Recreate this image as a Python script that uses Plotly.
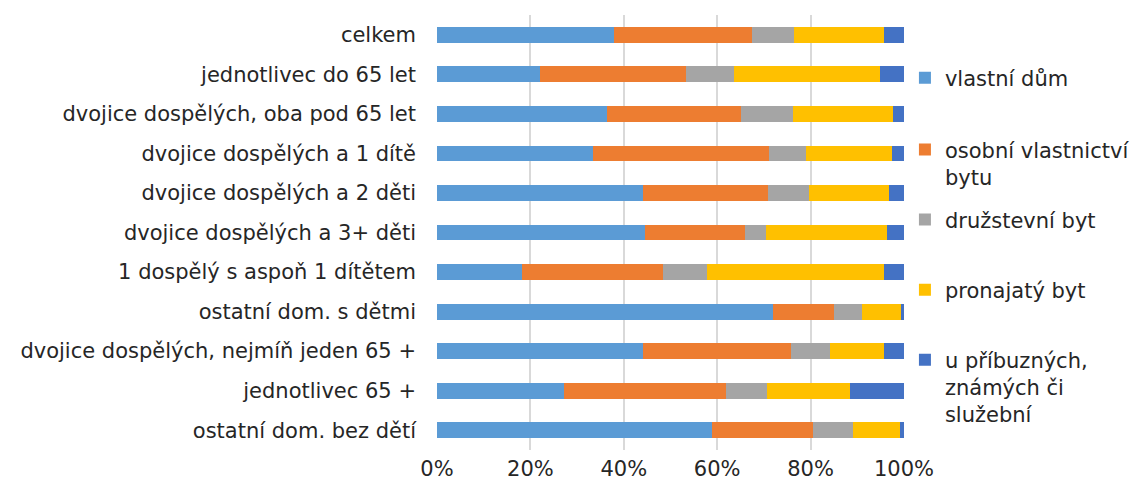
import plotly.graph_objects as go

categories = [
    "celkem",
    "jednotlivec do 65 let",
    "dvojice dospělých, oba pod 65 let",
    "dvojice dospělých a 1 dítě",
    "dvojice dospělých a 2 děti",
    "dvojice dospělých a 3+ děti",
    "1 dospělý s aspoň 1 dítětem",
    "ostatní dom. s dětmi",
    "dvojice dospělých, nejmíň jeden 65 +",
    "jednotlivec 65 +",
    "ostatní dom. bez dětí",
]

vlastni_dum = [38.0, 22.0, 36.5, 33.5, 44.2, 44.5, 18.1, 72.0, 44.2, 27.1, 58.8]
osobni_vlastnictvi = [29.5, 31.4, 28.7, 37.6, 26.7, 21.5, 30.2, 13.1, 31.7, 34.7, 21.7]
druzstevni = [9.0, 10.3, 11.1, 7.9, 8.8, 4.5, 9.5, 5.8, 8.3, 8.9, 8.5]
pronajaty = [19.2, 31.1, 21.4, 18.4, 17.1, 25.9, 38.0, 8.5, 11.5, 17.7, 10.1]
u_pribuznych = [4.3, 5.2, 2.3, 2.6, 3.2, 3.6, 4.2, 0.6, 4.3, 11.6, 0.9]

series_names = [
    "vlastní dům",
    "osobní vlastnictví<br>bytu",
    "družstevní byt",
    "pronajatý byt",
    "u příbuzných,<br>známých či<br>služební",
]
series_values = [vlastni_dum, osobni_vlastnictvi, druzstevni, pronajaty, u_pribuznych]
colors = ["#5B9BD5", "#ED7D31", "#A5A5A5", "#FFC000", "#4472C4"]

FONT = "DejaVu Sans, Verdana, sans-serif"
FS = 21

legend_ids = ["legend", "legend2", "legend3", "legend4", "legend5"]
legend_y = [0.902, 0.737, 0.576, 0.415, 0.254]

fig = go.Figure()
for i, (name, vals, col) in enumerate(zip(series_names, series_values, colors)):
    fig.add_trace(go.Bar(
        y=categories,
        x=[v / 100 for v in vals],
        name=name,
        orientation="h",
        marker=dict(color=col, line=dict(width=0)),
        legend=legend_ids[i],
    ))

legend_common = dict(
    x=1.002, xanchor="left",
    yanchor="top",
    valign="top",
    font=dict(family=FONT, size=FS, color="#262626"),
    bgcolor="rgba(0,0,0,0)",
)

fig.update_layout(
    barmode="stack",
    bargap=0.6,
    width=1134,
    height=487,
    margin=dict(l=437, r=230, t=15, b=37, autoexpand=False),
    paper_bgcolor="white",
    plot_bgcolor="white",
    font=dict(family=FONT, size=FS, color="#262626"),
    showlegend=True,
    xaxis=dict(
        range=[0, 1],
        tickvals=[0, 0.2, 0.4, 0.6, 0.8, 1.0],
        tickformat=".0%",
        showgrid=True,
        gridcolor="#D9D9D9",
        gridwidth=1.5,
        zeroline=False,
        showline=False,
        ticks="",
        ticklabelstandoff=4,
        tickfont=dict(family=FONT, size=FS, color="#262626"),
    ),
    yaxis=dict(
        autorange="reversed",
        showgrid=False,
        showline=False,
        zeroline=False,
        ticks="",
        ticklabelstandoff=20,
        tickfont=dict(family=FONT, size=FS, color="#262626"),
    ),
)
for lid, ly in zip(legend_ids, legend_y):
    fig.update_layout({lid: dict(legend_common, y=ly)})

fig.write_html(
    "out.html",
    config={"displayModeBar": False},
    post_script="document.body.style.margin='0';document.body.style.overflow='hidden';",
)
